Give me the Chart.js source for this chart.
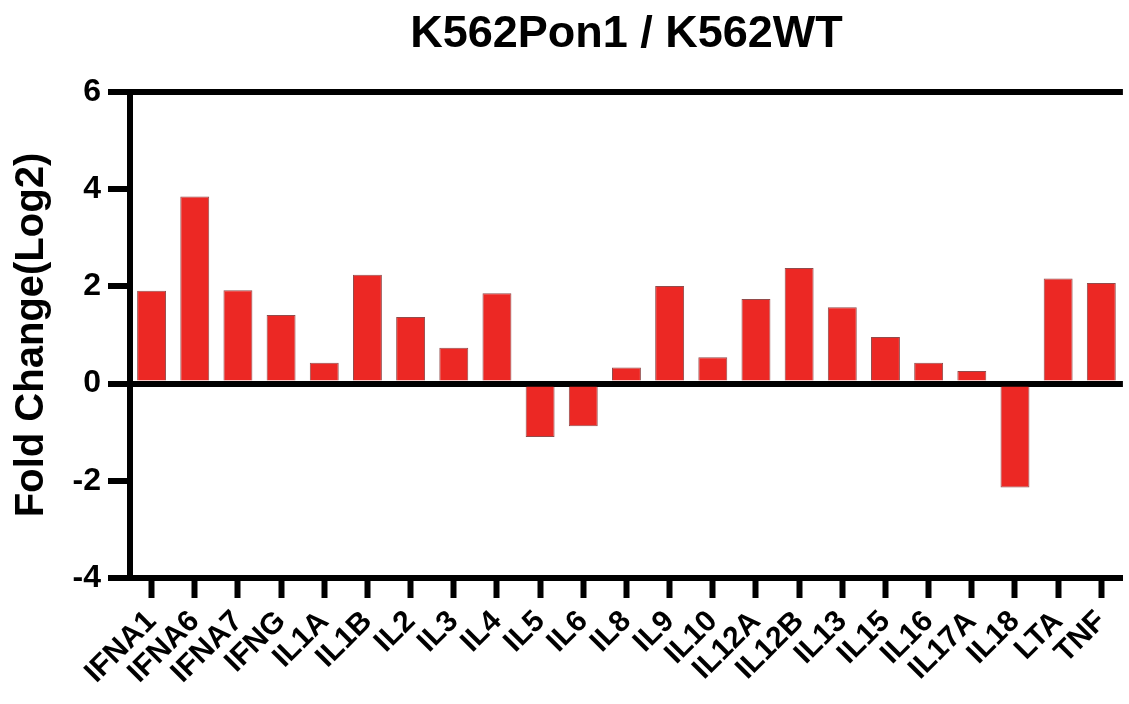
<!DOCTYPE html>
<html>
<head>
<meta charset="utf-8">
<script src="https://cdn.jsdelivr.net/npm/chart.js@4"></script>
<style>
  html, body { margin: 0; padding: 0; background: #fff; overflow: hidden; }
  #wrap { width: 1133px; height: 704px; }
</style>
</head>
<body>
<div id="wrap"><canvas id="foldChart"></canvas></div>
<script>
// genes on the x axis
const genes = ['IFNA1', 'IFNA6', 'IFNA7', 'IFNG', 'IL1A', 'IL1B', 'IL2', 'IL3', 'IL4', 'IL5', 'IL6', 'IL8',
  'IL9', 'IL10', 'IL12A', 'IL12B', 'IL13', 'IL15', 'IL16', 'IL17A', 'IL18', 'LTA', 'TNF'];
// fold change (log2)
const foldChange = [1.91, 3.85, 1.92, 1.41, 0.43, 2.24, 1.37, 0.74, 1.86, -1.10, -0.88, 0.33,
  2.01, 0.54, 1.74, 2.38, 1.57, 0.96, 0.43, 0.26, -2.14, 2.16, 2.07];
const yTicks = [-4, -2, 0, 2, 4, 6];

const font = 'Liberation Sans, Arial, sans-serif';

new Chart(document.getElementById('foldChart'), {
  type: 'bar',
  data: {
    labels: genes,
    datasets: [{
      label: 'K562Pon1 / K562WT',
      data: foldChange,
      backgroundColor: 'rgb(236, 40, 36)',
      borderColor: 'rgba(110, 15, 15, 0.75)',
      borderWidth: 1,
      barPercentage: 0.67,
      categoryPercentage: 1.0
    }]
  },
  options: {
    responsive: true,
    maintainAspectRatio: false,
    animation: false,
    layout: { padding: 0 },
    plugins: {
      legend: { display: false },
      tooltip: { enabled: false },
      title: {
        display: true,
        fullSize: false,
        text: 'K562Pon1 / K562WT',
        color: '#000',
        font: { family: font, size: 45, weight: 'bold' },
        padding: { top: 8, bottom: 30 }
      }
    },
    scales: {
      x: {
        offset: true,
        border: { display: true, color: '#000', width: 6 },
        grid: {
          offset: false,
          drawOnChartArea: false,
          drawTicks: true,
          tickLength: 20,
          tickWidth: 6,
          tickColor: '#000'
        },
        ticks: {
          color: '#000',
          font: { family: font, size: 30, weight: 'bold' },
          minRotation: 45,
          maxRotation: 45,
          autoSkip: false,
          padding: 6
        },
        afterFit(scale) { scale.height = 126; }
      },
      y: {
        min: -4,
        max: 6,
        z: 1,
        border: { display: true, color: '#000', width: 6 },
        grid: {
          color: (c) => (c.tick && (c.tick.value === 0 || c.tick.value === 6)) ? '#000' : 'rgba(0,0,0,0)',
          lineWidth: 6,
          drawTicks: true,
          tickLength: 22,
          tickWidth: 6,
          tickColor: '#000'
        },
        afterBuildTicks(scale) { scale.ticks = yTicks.map(v => ({ value: v })); },
        ticks: {
          color: '#000',
          font: { family: font, size: 32, weight: 'bold' },
          padding: 7
        },
        title: {
          display: true,
          text: 'Fold Change(Log2)',
          color: '#000',
          font: { family: font, size: 40, weight: 'bold' },
          padding: { top: 8, bottom: 0 }
        },
        afterFit(scale) { scale.width = 130; }
      }
    }
  }
});
</script>
</body>
</html>
